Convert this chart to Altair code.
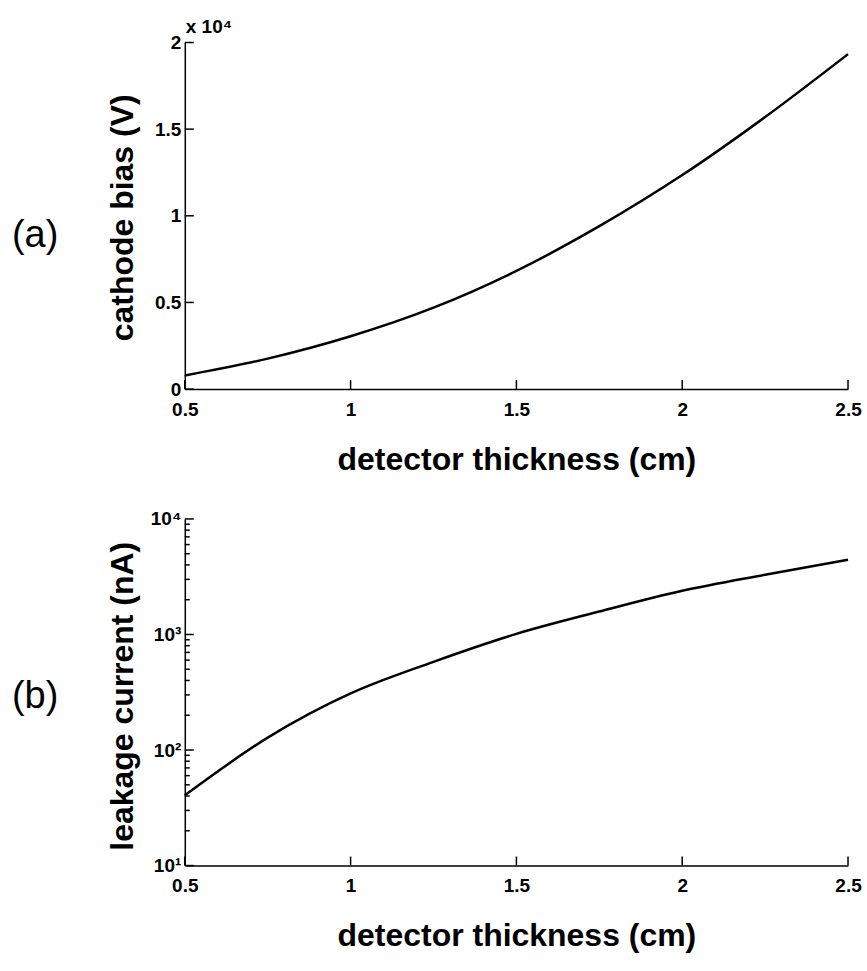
import altair as alt
import pandas as pd

# ---- data ----
thickness = [0.5, 0.75, 1.0, 1.25, 1.5, 1.75, 2.0, 2.25, 2.5]
cathode_bias = [790, 1760, 3050, 4700, 6820, 9400, 12350, 15700, 19330]
leakage_current = [40.5, 128, 309, 580, 1012, 1580, 2390, 3290, 4440]

x_ticks = [0.5, 1.0, 1.5, 2.0, 2.5]
bias_ticks = [0, 5000, 10000, 15000, 20000]
leak_major = [10, 100, 1000, 10000]
leak_minor = [20, 30, 40, 50, 60, 70, 80, 90,
              200, 300, 400, 500, 600, 700, 800, 900,
              2000, 3000, 4000, 5000, 6000, 7000, 8000, 9000]
exp_label = ["x 10\u2074"]
panel_a = ["(a)"]
panel_b = ["(b)"]

FONT = "Liberation Sans"
W, H = 664, 347
TICK_COLOR = "black"

df_a = pd.DataFrame({"thickness": thickness, "bias": cathode_bias})
df_b = pd.DataFrame({"thickness": thickness, "leak": leakage_current})

xscale = alt.Scale(domain=[0.5, 2.5], nice=False, zero=False)
yscale_a = alt.Scale(domain=[0, 20000], nice=False)
yscale_b = alt.Scale(type="log", domain=[10, 10000], nice=False)

x_axis = alt.Axis(values=x_ticks, format="~g", title="detector thickness (cm)",
                  titleY=70, titleBaseline="middle", labelPadding=11)
y_axis_a = alt.Axis(values=bias_ticks, labelExpr="format(datum.value/10000, '~g')",
                    title="cathode bias (V)", titleX=-62, titleY=175,
                    titleAlign="center", titleBaseline="middle", titleAngle=270)
y_axis_b = alt.Axis(values=leak_major,
                    labelExpr="datum.value == 10 ? '10\u00b9' : datum.value == 100 ? '10\u00b2' : datum.value == 1000 ? '10\u00b3' : '10\u2074'",
                    title="leakage current (nA)", titleX=-62, titleY=177,
                    titleAlign="center", titleBaseline="middle", titleAngle=270)

X = alt.X("thickness:Q", scale=xscale, axis=x_axis)


def x_tick_marks():
    return alt.Chart(pd.DataFrame({"thickness": x_ticks})).mark_rule(
        color=TICK_COLOR, strokeWidth=1.5
    ).encode(x=X, y=alt.value(H - 9), y2=alt.value(H))


def y_tick_marks(vals, yfield, yscale, yaxis, length):
    return alt.Chart(pd.DataFrame({yfield: vals})).mark_rule(
        color=TICK_COLOR, strokeWidth=1.5
    ).encode(y=alt.Y(f"{yfield}:Q", scale=yscale, axis=yaxis),
             x=alt.value(0), x2=alt.value(length))


# ---- panel (a) ----
Ya = alt.Y("bias:Q", scale=yscale_a, axis=y_axis_a)
line_a = alt.Chart(df_a).mark_line(color="black", strokeWidth=2.5,
                                   interpolate="monotone").encode(x=X, y=Ya)
xt_a = x_tick_marks()
yt_a = y_tick_marks(bias_ticks, "bias", yscale_a, y_axis_a, 9)
exp_a = alt.Chart(pd.DataFrame({"t": exp_label})).mark_text(
    align="left", baseline="alphabetic", font=FONT, fontSize=19,
    fontWeight="bold", color="black").encode(
    text="t:N", x=alt.value(1), y=alt.value(-10))
lab_a = alt.Chart(pd.DataFrame({"t": panel_a})).mark_text(
    align="left", baseline="middle", font=FONT, fontSize=38,
    color="black").encode(text="t:N", x=alt.value(-173), y=alt.value(194))

top = alt.layer(line_a, xt_a, yt_a, exp_a, lab_a).properties(width=W, height=H)

# ---- panel (b) ----
Yb = alt.Y("leak:Q", scale=yscale_b, axis=y_axis_b)
line_b = alt.Chart(df_b).mark_line(color="black", strokeWidth=2.5,
                                   interpolate="monotone").encode(x=X, y=Yb)
xt_b = x_tick_marks()
yt_b_major = y_tick_marks(leak_major, "leak", yscale_b, y_axis_b, 9)
yt_b_minor = y_tick_marks(leak_minor, "leak", yscale_b, y_axis_b, 5)
lab_b = alt.Chart(pd.DataFrame({"t": panel_b})).mark_text(
    align="left", baseline="middle", font=FONT, fontSize=38,
    color="black").encode(text="t:N", x=alt.value(-173), y=alt.value(178))

bottom = alt.layer(line_b, xt_b, yt_b_major, yt_b_minor, lab_b).properties(width=W, height=H)

chart = alt.vconcat(top, bottom, spacing=130, bounds="flush").properties(
    padding={"left": 12, "top": 17, "right": 5, "bottom": 5},
    background="white",
).configure_view(stroke=None).configure_axis(
    domainColor="black", domainWidth=1.5, ticks=False, grid=False,
    labelFont=FONT, labelFontSize=19, labelFontWeight="bold", labelColor="black",
    labelPadding=4, labelFlush=False, labelOverlap=False,
    titleFont=FONT, titleFontSize=32, titleFontWeight="bold", titleColor="black",
)

chart.save("out.html", embed_options={"renderer": "svg", "actions": False})
